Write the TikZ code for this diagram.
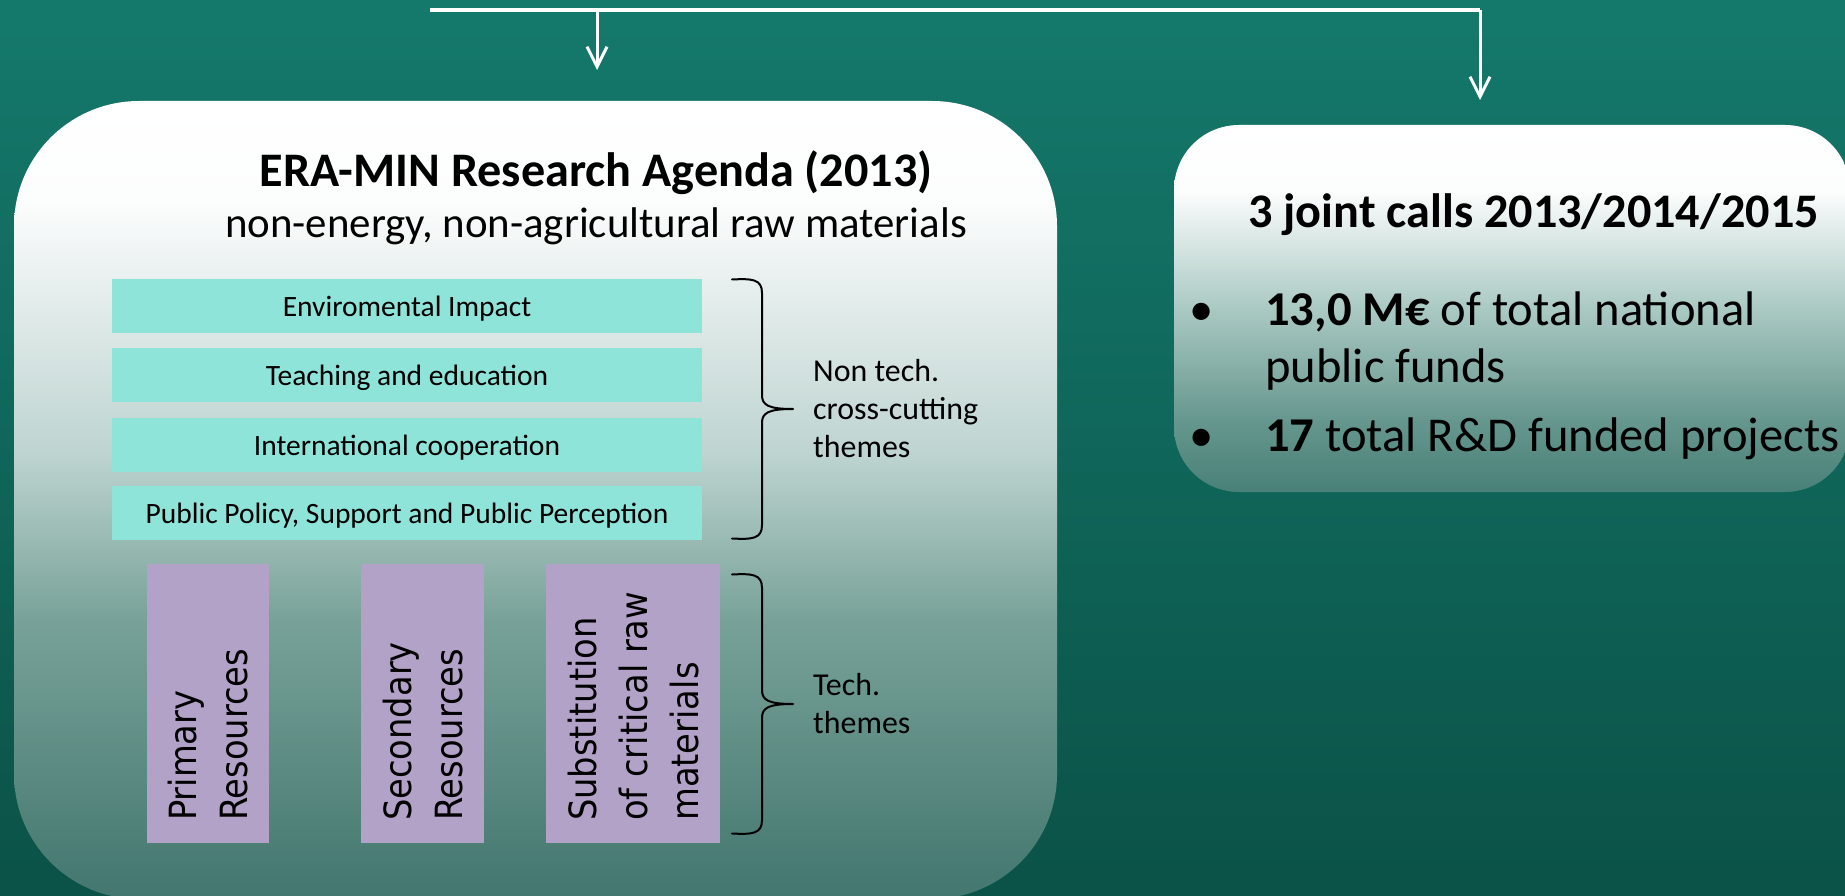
\documentclass[tikz,border=0pt]{standalone}
\usepackage{fontspec}
\setmainfont{Carlito}
\newfontfamily\rotfont{DejaVu Sans Condensed}
\usetikzlibrary{arrows.meta}
\definecolor{bgtop}{RGB}{20,121,107}
\definecolor{bgbot}{RGB}{11,82,72}
\definecolor{cCyan}{RGB}{143,228,218}
\definecolor{cPurple}{RGB}{179,162,200}
\definecolor{lgA}{RGB}{252,253,253}
\definecolor{lgB}{RGB}{190,212,208}
\definecolor{lgC}{RGB}{120,162,153}
\definecolor{lgD}{RGB}{66,118,110}
\definecolor{rgB}{RGB}{170,201,195}
\definecolor{rgC}{RGB}{102,151,142}
\definecolor{rgD}{RGB}{72,128,119}
\pgfdeclareverticalshading{bgshade}{100bp}{color(0bp)=(bgbot); color(25bp)=(bgbot); color(75bp)=(bgtop); color(100bp)=(bgtop)}
\pgfdeclareverticalshading{leftshade}{100bp}{color(0bp)=(lgD); color(25bp)=(lgD); color(42.5bp)=(lgC); color(53bp)=(lgB); color(68.8bp)=(lgA); color(75bp)=(white); color(100bp)=(white)}
\pgfdeclareverticalshading{rightshade}{100bp}{color(0bp)=(rgD); color(25bp)=(rgD); color(34.8bp)=(rgC); color(50bp)=(rgB); color(66bp)=(lgA); color(75bp)=(white); color(100bp)=(white)}
\begin{document}
\begin{tikzpicture}[x=1pt,y=-1pt,
  conn/.style={white, line width=3pt, -{Straight Barb[length=20pt,width=20pt]}},
  topline/.style={white, line width=3.3pt},
  bracepath/.style={black, line width=2pt, line cap=round, line join=round},
  leftbox/.style={shade, shading=leftshade, minimum width=1043pt, minimum height=798pt, rounded corners=125pt, inner sep=0pt},
  rightbox/.style={shade, shading=rightshade, minimum width=676pt, minimum height=367pt, rounded corners=65pt, inner sep=0pt},
  cyanbox/.style={fill=cCyan, minimum width=590pt, minimum height=54pt, inner sep=0pt, text height=20pt, text depth=0pt, font=\fontsize{29.5}{35}\selectfont},
  purpbox/.style={fill=cPurple, inner sep=0pt, minimum height=279pt},
  rottext/.style={rotate=90, anchor=base west, inner sep=0pt, font=\rotfont\fontsize{37.5}{51}\selectfont},
  lbl/.style={anchor=base west, inner sep=0pt, font=\fontsize{31.9}{38}\selectfont},
  bigtitle/.style={inner sep=0pt, font=\bfseries\fontsize{48.2}{57}\selectfont},
  bodytext/.style={inner sep=0pt, font=\fontsize{48.6}{57}\selectfont},
]
\useasboundingbox (0,0) rectangle (1845,896);
\shade[shading=bgshade] (0,0) rectangle (1845,896);

% connectors at top
\coordinate (hl) at (430,10);
\coordinate (hr) at (1480,10);
\coordinate (j1) at (597,10);
\coordinate (t1) at (597,70);
\coordinate (t2) at (1480,100);
\draw[topline] (hl) -- (hr);
\draw[conn] (j1) -- (t1);
\draw[conn] (hr) -- (t2);

% left box
\node[leftbox] (agenda) at (535.5,500) {};
\node[bigtitle, anchor=base] (title) at (596,187) {ERA-MIN Research Agenda (2013)};
\node[anchor=base, inner sep=0pt, font=\fontsize{42.9}{50}\selectfont] (subtitle) at (596,238) {non-energy, non-agricultural raw materials};

\node[cyanbox] (env) at (407,306) {Enviromental Impact};
\node[cyanbox] (teach) at (407,375) {Teaching and education};
\node[cyanbox] (intl) at (407,445) {International cooperation};
\node[cyanbox] (policy) at (407,513) {Public Policy, Support and Public Perception};

\node[purpbox, minimum width=122pt] (prim) at (208,703.5) {};
\node[purpbox, minimum width=123pt] (sec) at (422.5,703.5) {};
\node[purpbox, minimum width=174pt] (subst) at (633,703.5) {};

\node[rottext] (primtxt) at (196,821) {\begin{tabular}[t]{@{}l@{}}Primary\\Resources\end{tabular}};
\node[rottext] (sectxt) at (411,821) {\begin{tabular}[t]{@{}l@{}}Secondary\\Resources\end{tabular}};
\node[rottext] (subtxt) at (596,821) {\begin{tabular}[t]{@{}l@{}}Substitution\\of critical raw\\materials\end{tabular}};

% braces
\draw[bracepath] (732,279.5) .. controls (752,278.5) and (762,279) .. (762,293) -- (762,395)
  .. controls (762,405) and (768,409) .. (793,409)
  .. controls (768,409) and (762,413) .. (762,423) -- (762,525)
  .. controls (762,539) and (752,539.5) .. (732,538.5);
\draw[bracepath] (732,574.5) .. controls (752,573.5) and (762,574) .. (762,588) -- (762,690)
  .. controls (762,700) and (768,704) .. (793,704)
  .. controls (768,704) and (762,708) .. (762,718) -- (762,820)
  .. controls (762,834) and (752,834.5) .. (732,833.5);

\node[lbl] (nontech) at (813,381.5) {\begin{tabular}[t]{@{}l@{}}Non tech.\\cross-cutting\\themes\end{tabular}};
\node[lbl] (tech) at (813,695) {\begin{tabular}[t]{@{}l@{}}Tech.\\themes\end{tabular}};

% right box
\node[rightbox] (calls) at (1512,308.5) {};
\node[bigtitle, anchor=base west] (callstitle) at (1248,228) {3 joint calls 2013/2014/2015};
\node[bodytext, anchor=base] (bulA) at (1202,325) {•};
\node[bodytext, anchor=base] (bulB) at (1202,451) {•};
\node[bodytext, anchor=base west] (funds) at (1265,325) {\begin{tabular}[t]{@{}l@{}}\textbf{13,0 M€} of total national\\public funds\\[12pt]\textbf{17} total R\&D funded projects\end{tabular}};
\end{tikzpicture}
\end{document}
